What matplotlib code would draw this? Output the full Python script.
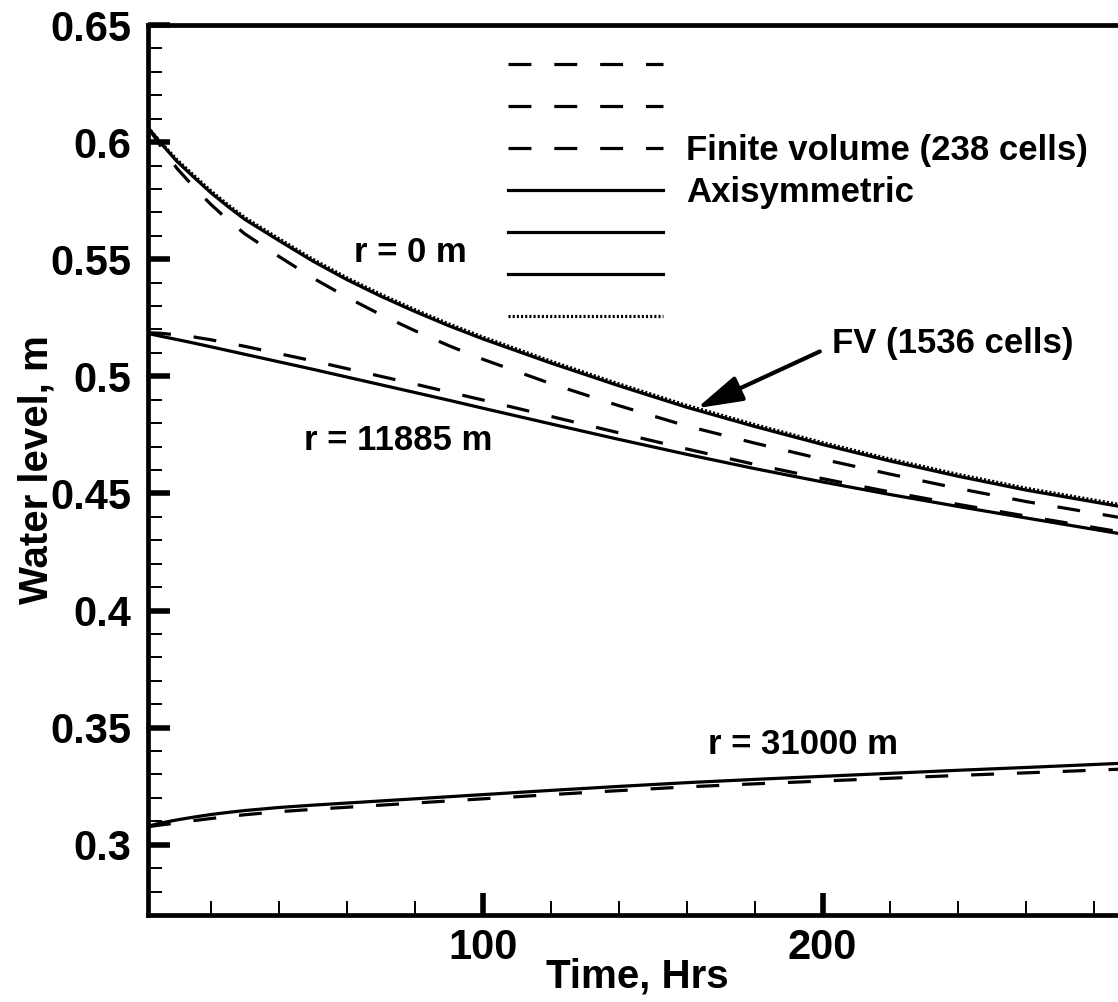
import numpy as np
import matplotlib
matplotlib.use("Agg")
import matplotlib.pyplot as plt
from matplotlib.ticker import MultipleLocator, FuncFormatter

# values
time_hrs = [1.5, 5, 10, 15, 20, 25, 30, 40, 50, 60, 70, 80, 90, 100,
            120, 140, 160, 180, 200, 220, 240, 260, 290]

axi_r0 = [0.6062, 0.6000, 0.5918, 0.5850, 0.5784, 0.5725, 0.5670, 0.5580, 0.5492,
          0.5413, 0.5342, 0.5277, 0.5216, 0.5160, 0.5057, 0.4960, 0.4868, 0.4786,
          0.4709, 0.4638, 0.4573, 0.4514, 0.4438]
fv238_r0 = [0.6062, 0.5988, 0.5888, 0.5808, 0.5734, 0.5668, 0.5608, 0.5512, 0.5420,
            0.5338, 0.5263, 0.5195, 0.5131, 0.5073, 0.4969, 0.4875, 0.4788, 0.4715,
            0.4646, 0.4582, 0.4521, 0.4465, 0.4391]
fv1536_r0 = [0.6062, 0.6004, 0.5925, 0.5858, 0.5792, 0.5733, 0.5678, 0.5588, 0.5500,
             0.5421, 0.5350, 0.5285, 0.5224, 0.5168, 0.5065, 0.4968, 0.4876, 0.4794,
             0.4717, 0.4646, 0.4581, 0.4522, 0.4446]

axi_r11885 = [0.5183, 0.5172, 0.5157, 0.5142, 0.5126, 0.5110, 0.5094, 0.5062, 0.5030,
              0.4997, 0.4964, 0.4931, 0.4898, 0.4864, 0.4797, 0.4731, 0.4667, 0.4606,
              0.4549, 0.4495, 0.4444, 0.4395, 0.4322]
fv238_r11885 = [0.5186, 0.5184, 0.5177, 0.5168, 0.5156, 0.5142, 0.5128, 0.5097, 0.5066,
                0.5033, 0.5000, 0.4967, 0.4933, 0.4899, 0.4829, 0.4759, 0.4690, 0.4624,
                0.4563, 0.4506, 0.4453, 0.4403, 0.4330]

axi_r31000 = [0.3079, 0.3092, 0.3106, 0.3118, 0.3129, 0.3138, 0.3146, 0.3159, 0.3169,
              0.3178, 0.3187, 0.3196, 0.3205, 0.3214, 0.3232, 0.3249, 0.3265, 0.3279,
              0.3292, 0.3305, 0.3318, 0.3330, 0.3349]
fv238_r31000 = [0.3077, 0.3084, 0.3093, 0.3103, 0.3112, 0.3120, 0.3128, 0.3141, 0.3151,
                0.3160, 0.3169, 0.3178, 0.3187, 0.3196, 0.3214, 0.3231, 0.3247, 0.3260,
                0.3272, 0.3284, 0.3296, 0.3307, 0.3324]

plt.rcParams["font.family"] = ["Liberation Sans", "DejaVu Sans"]
plt.rcParams["font.weight"] = "bold"
plt.rcParams["lines.scale_dashes"] = False

W, H = 1118, 1002
fig = plt.figure(figsize=(W / 100, H / 100), dpi=100)
ax = fig.add_axes([148 / W, 87 / H, 979 / W, 890 / H])

LW = 2.3
DASH = (0, (16.5, 16.5))
DOT = (0, (1.5, 1.5))

d0, = ax.plot(time_hrs, fv238_r0, color="black", lw=LW, ls=DASH)
d1, = ax.plot(time_hrs, fv238_r11885, color="black", lw=LW, ls=DASH)
d2, = ax.plot(time_hrs, fv238_r31000, color="black", lw=LW, ls=DASH)
s0, = ax.plot(time_hrs, axi_r0, color="black", lw=LW)
s1, = ax.plot(time_hrs, axi_r11885, color="black", lw=LW)
s2, = ax.plot(time_hrs, axi_r31000, color="black", lw=LW)
p0, = ax.plot(time_hrs, fv1536_r0, color="black", lw=LW, ls=DOT)

handles = [d0, d1, d2, s0, s1, s2, p0]
labels = ["", "", "Finite volume (238 cells)", "Axisymmetric", "", "", ""]
ax.legend(handles, labels, loc="upper left",
          bbox_to_anchor=(508 / W, 1 - 50 / H), bbox_transform=fig.transFigure,
          frameon=False, prop=dict(size=25, weight="bold"),
          handlelength=4.47, handletextpad=0.65, labelspacing=0.26,
          borderpad=0, borderaxespad=0)

txt = dict(fontsize=25, fontweight="bold", ha="center", va="baseline")
ax.text(78.6, 0.5489, "r = 0 m", **txt)
ax.text(75.2, 0.4685, "r = 11885 m", **txt)
ax.text(194.4, 0.3389, "r = 31000 m", **txt)
ax.text(238.2, 0.5098, "FV (1536 cells)", **txt)

tip_x = 163.0
ax.annotate("", xy=(tip_x, np.interp(tip_x, time_hrs, fv1536_r0)),
            xytext=(199.2, 0.5106),
            arrowprops=dict(arrowstyle="-|>,head_length=28,head_width=8",
                            mutation_scale=1, lw=3, color="black",
                            shrinkA=0, shrinkB=0))

ax.set_xlim(1.5, 289.6)
ax.set_ylim(0.27, 0.65)
ax.xaxis.set_major_locator(MultipleLocator(100))
ax.xaxis.set_minor_locator(MultipleLocator(20))
ax.set_yticks(np.arange(0.30, 0.6501, 0.05))
ax.yaxis.set_minor_locator(MultipleLocator(0.01))
ax.yaxis.set_major_formatter(FuncFormatter(lambda v, p: f"{v:g}"))

ax.tick_params(which="major", direction="in", length=16, width=4, labelsize=30)
ax.tick_params(which="minor", direction="in", length=10, width=1.4)
ax.tick_params(axis="x", which="major", pad=9.4)
ax.tick_params(axis="y", which="major", pad=12.2)
ax.tick_params(which="both", top=False, right=False)

ax.spines["right"].set_visible(False)
for side in ("left", "top", "bottom"):
    ax.spines[side].set_linewidth(3.4)

ax.set_xlabel("Time, Hrs", fontsize=29, fontweight="bold")
ax.xaxis.set_label_coords(0.5, -(957 - 915) / 890)
ax.set_ylabel("Water level, m", fontsize=29, fontweight="bold")
ax.yaxis.set_label_coords((56 - 148) / 979, 0.5)

fig.savefig("out.png", dpi=100)
